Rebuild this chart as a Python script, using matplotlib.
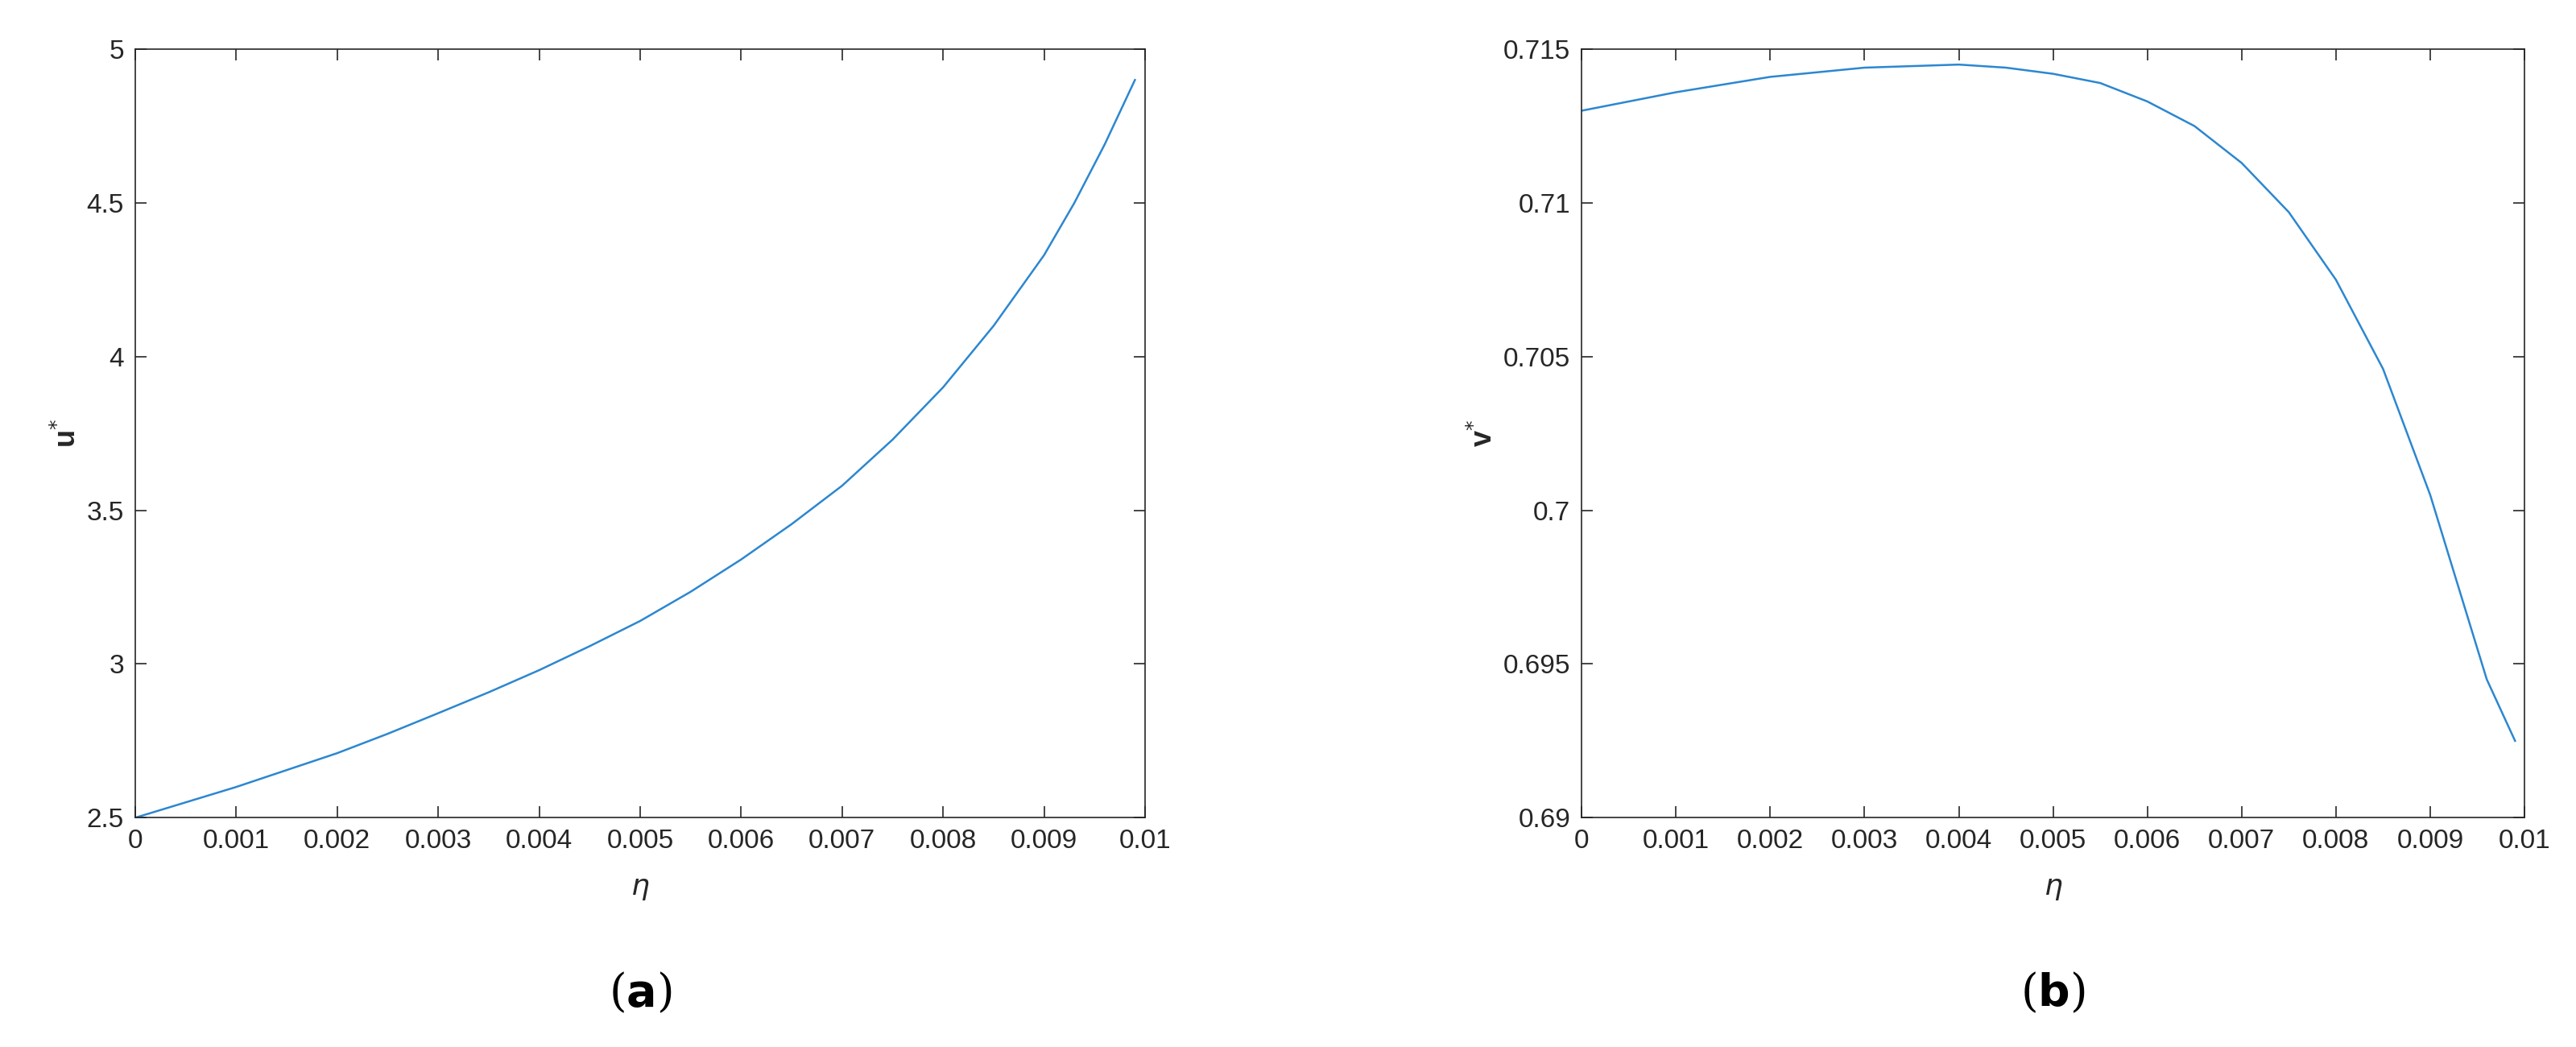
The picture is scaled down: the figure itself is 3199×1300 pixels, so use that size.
import matplotlib
matplotlib.use("Agg")
import matplotlib.pyplot as plt

eta_u = [0, 0.0005, 0.001, 0.0015, 0.002, 0.0025, 0.003, 0.0035, 0.004, 0.0045, 0.005, 0.0055, 0.006, 0.0065, 0.007, 0.0075, 0.008, 0.0085, 0.009, 0.0093, 0.0096, 0.0099]
u_vals = [2.5, 2.55, 2.6, 2.655, 2.71, 2.773, 2.84, 2.908, 2.98, 3.058, 3.14, 3.235, 3.34, 3.455, 3.58, 3.73, 3.9, 4.1, 4.33, 4.5, 4.69, 4.9]
eta_v = [0, 0.001, 0.002, 0.003, 0.004, 0.0045, 0.005, 0.0055, 0.006, 0.0065, 0.007, 0.0075, 0.008, 0.0085, 0.009, 0.0093, 0.0096, 0.0099]
v_vals = [0.713, 0.7136, 0.7141, 0.7144, 0.7145, 0.7144, 0.7142, 0.7139, 0.7133, 0.7125, 0.7113, 0.7097, 0.7075, 0.7046, 0.7005, 0.6975, 0.6945, 0.6925]

plt.rcParams['font.family'] = ['Liberation Sans', 'DejaVu Sans']
fig = plt.figure(figsize=(31.99, 13), dpi=100)
color = '#2c87d0'

def setup(ax, ylim, yticks, ylabel, sub):
    ax.set_xlim(0, 0.01)
    ax.set_ylim(*ylim)
    ax.set_xticks([i/1000 for i in range(11)])
    ax.set_xticklabels(['0'] + ['%.3f' % (i/1000) for i in range(1, 10)] + ['0.01'])
    ax.set_yticks(yticks)
    ax.set_yticklabels([('%g' % t) for t in yticks])
    ax.tick_params(direction='in', top=True, right=True, labelsize=24, length=10, width=1.2, colors='#262626', pad=10)
    for s in ax.spines.values():
        s.set_linewidth(1.2); s.set_color('#262626')
    ax.set_xlabel(r'$\eta$', fontsize=26, color='#262626', labelpad=18)
    ax.set_ylabel(ylabel, fontsize=26, color='#262626', fontweight='bold')
    ax.text(0.5, -0.2, sub, transform=ax.transAxes, ha='center', va='top', fontsize=40, family='DejaVu Serif')

ax1 = fig.add_axes([0.0525, 0.219, 0.392, 0.734])
ax1.plot(eta_u, u_vals, color=color, lw=1.8)
setup(ax1, (2.5, 5), [2.5, 3, 3.5, 4, 4.5, 5], r'u$^{*}$', r'($\mathbf{a}$)')

ax2 = fig.add_axes([0.614, 0.219, 0.366, 0.734])
ax2.plot(eta_v, v_vals, color=color, lw=1.8)
setup(ax2, (0.69, 0.715), [0.69, 0.695, 0.7, 0.705, 0.71, 0.715], r'v$^{*}$', r'($\mathbf{b}$)')

fig.savefig('out.png', dpi=100)
